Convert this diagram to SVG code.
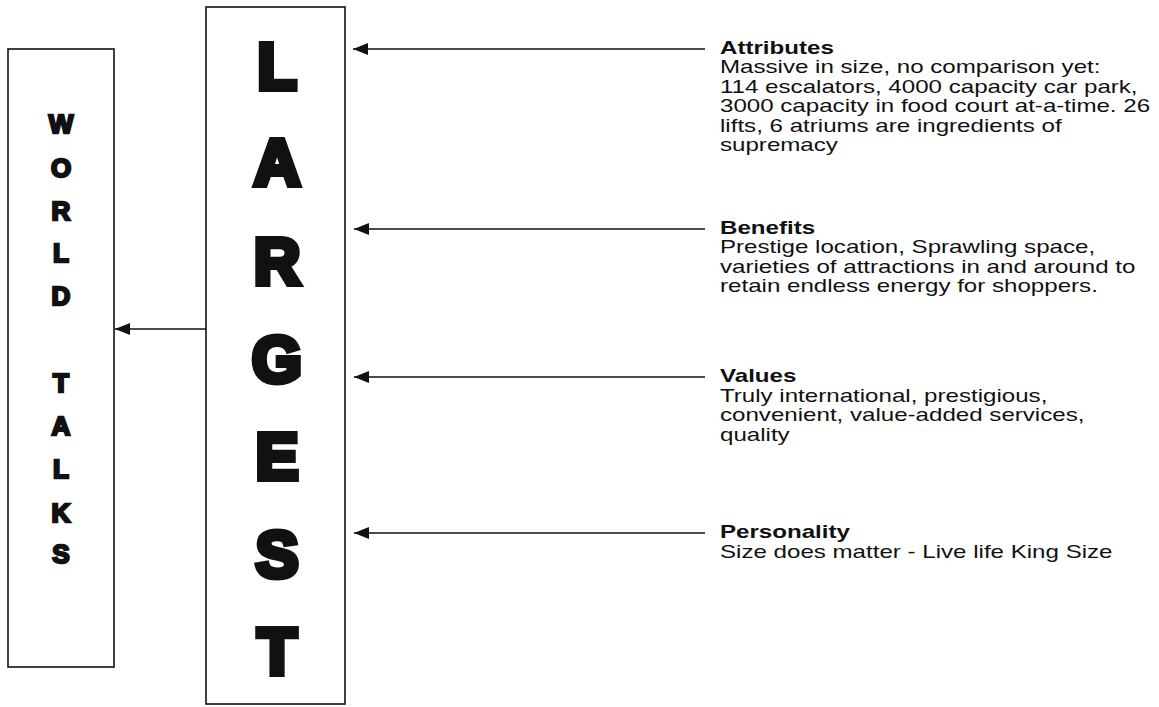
<svg xmlns="http://www.w3.org/2000/svg" width="1159" height="707" viewBox="0 0 1159 707">
<style>
.box{fill:#fff;stroke:#111;stroke-width:1.6}
.big{font-family:"Liberation Sans",Arial,sans-serif;font-weight:bold;font-size:64px;fill:#111;stroke:#111;stroke-width:6;stroke-linejoin:miter;text-anchor:middle}
.small{font-family:"Liberation Sans",Arial,sans-serif;font-weight:bold;font-size:26px;fill:#111;stroke:#111;stroke-width:2.4;text-anchor:middle}
.h{font-family:"Liberation Sans",Arial,sans-serif;font-weight:bold;font-size:18px;fill:#111}
.t{font-family:"Liberation Sans",Arial,sans-serif;font-size:18px;fill:#111}
.c{stroke:#111;stroke-width:1.4;fill:none}
</style>
<defs>
<marker id="ah" markerWidth="16" markerHeight="12" refX="15" refY="6" orient="auto" markerUnits="userSpaceOnUse">
<path d="M0,0 L15,6 L0,12 Z" fill="#111"/>
</marker>
</defs>
<g id="world">
<rect class="box" x="8" y="49" width="106" height="618"/>
<text class="small" x="61" y="133">W</text>
<text class="small" x="61" y="177">O</text>
<text class="small" x="61" y="220">R</text>
<text class="small" x="61" y="262">L</text>
<text class="small" x="61" y="305">D</text>
<text class="small" x="61" y="392">T</text>
<text class="small" x="61" y="435">A</text>
<text class="small" x="61" y="478">L</text>
<text class="small" x="61" y="522">K</text>
<text class="small" x="61" y="563">S</text>
</g>
<g id="largest">
<rect class="box" x="206" y="7" width="139" height="697"/>
<text class="big" x="277" y="89">L</text>
<text class="big" x="277" y="185">A</text>
<text class="big" x="277" y="284">R</text>
<text class="big" x="277" y="382">G</text>
<text class="big" x="277" y="479">E</text>
<text class="big" x="277" y="577">S</text>
<text class="big" x="277" y="674">T</text>
</g>
<g id="attributes" transform="translate(720 0) scale(1.34 1)">
<text class="h" x="0" y="54">Attributes</text>
<text class="t" x="0" y="73">Massive in size, no comparison yet:</text>
<text class="t" x="0" y="93">114 escalators, 4000 capacity car park,</text>
<text class="t" x="0" y="112">3000 capacity in food court at-a-time. 26</text>
<text class="t" x="0" y="132">lifts, 6 atriums are ingredients of</text>
<text class="t" x="0" y="151">supremacy</text>
</g>
<g id="benefits" transform="translate(720 0) scale(1.34 1)">
<text class="h" x="0" y="234">Benefits</text>
<text class="t" x="0" y="253">Prestige location, Sprawling space,</text>
<text class="t" x="0" y="273">varieties of attractions in and around to</text>
<text class="t" x="0" y="292">retain endless energy for shoppers.</text>
</g>
<g id="values" transform="translate(720 0) scale(1.34 1)">
<text class="h" x="0" y="382">Values</text>
<text class="t" x="0" y="402">Truly international, prestigious,</text>
<text class="t" x="0" y="421">convenient, value-added services,</text>
<text class="t" x="0" y="441">quality</text>
</g>
<g id="personality" transform="translate(720 0) scale(1.34 1)">
<text class="h" x="0" y="538">Personality</text>
<text class="t" x="0" y="558">Size does matter - Live life King Size</text>
</g>
<g id="connectors">
<line class="c" x1="705" y1="49" x2="353" y2="49" marker-end="url(#ah)"/>
<line class="c" x1="705" y1="229" x2="354" y2="229" marker-end="url(#ah)"/>
<line class="c" x1="705" y1="377" x2="354" y2="377" marker-end="url(#ah)"/>
<line class="c" x1="705" y1="533" x2="354" y2="533" marker-end="url(#ah)"/>
<line class="c" x1="206" y1="329" x2="115" y2="329" marker-end="url(#ah)"/>
</g>
</svg>
